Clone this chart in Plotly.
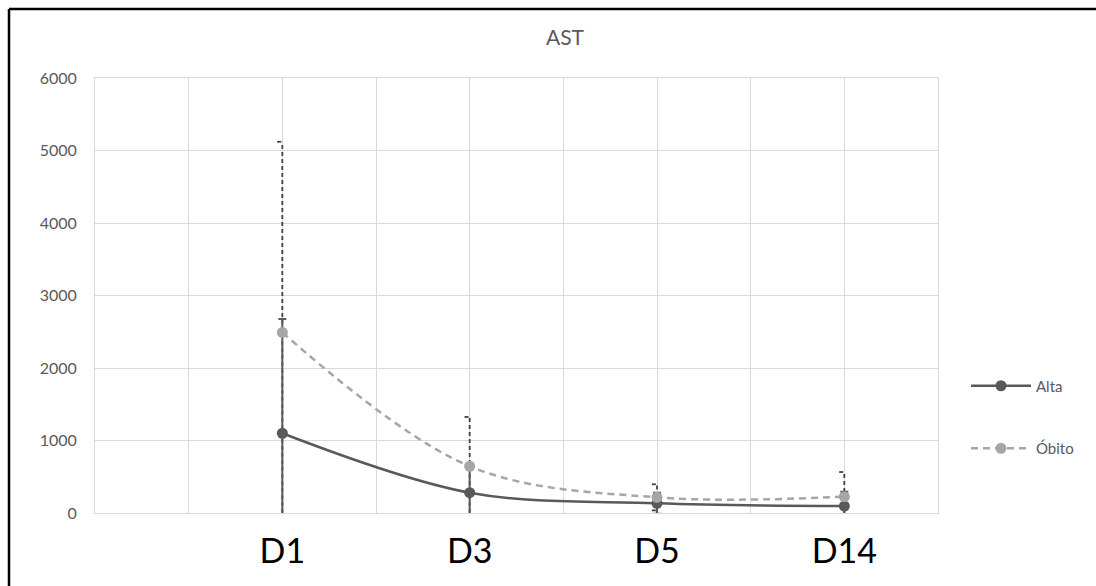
import plotly.graph_objects as go

# AST values per sampling day (mean and standard deviation)
days = ["D1", "D3", "D5", "D14"]
day_pos = [2, 4, 6, 8]
alta_mean = [1100, 280, 134, 96]
alta_sd = [1575, 360, 146, 197]
obito_mean = [2490, 645, 216, 225]
obito_sd = [2630, 680, 180, 340]
y_ticks = [0, 1000, 2000, 3000, 4000, 5000, 6000]

FONT = "Lato"
GRID = "#d9d9d9"
DARK = "#595959"
LIGHT = "#a6a6a6"

# dashed error bars for Óbito, with a short cap on the left of each whisker
cap = 0.055
ex, ey = [], []
for x, m, s in zip(day_pos, obito_mean, obito_sd):
    lo = max(0, m - s)
    ex += [x, x, None]
    ey += [lo, m + s, None]
    ex += [x - cap, x, None]
    ey += [m + s, m + s, None]
    if m - s > 0:
        ex += [x - cap, x, None]
        ey += [m - s, m - s, None]

fig = go.Figure()

fig.add_trace(go.Scatter(
    x=ex, y=ey, mode="lines",
    line=dict(color="#404040", width=1.8, dash="4px,3px"),
    showlegend=False, hoverinfo="skip",
))

fig.add_trace(go.Scatter(
    x=day_pos, y=alta_mean, name="Alta",
    mode="lines+markers",
    line=dict(color=DARK, width=2.5, shape="spline", smoothing=1.0),
    marker=dict(color=DARK, size=11),
    error_y=dict(type="data", array=alta_sd, visible=True,
                 color=DARK, thickness=2, width=4),
    legendgroup="a",
))

fig.add_trace(go.Scatter(
    x=day_pos, y=obito_mean, name="Óbito",
    mode="lines+markers",
    line=dict(color=LIGHT, width=2.5, dash="7px,5px", shape="spline", smoothing=1.0),
    marker=dict(color=LIGHT, size=11),
    legendgroup="b",
))

tick_vals = list(range(0, 10))
tick_text = [""] * 10
for p, d in zip(day_pos, days):
    tick_text[p] = d

fig.update_xaxes(
    range=[0, 9], tickvals=tick_vals, ticktext=tick_text,
    showgrid=True, gridcolor=GRID, gridwidth=1,
    showline=True, linecolor=GRID, linewidth=1, mirror=True,
    zeroline=False, ticks="", ticklabelstandoff=8,
    tickfont=dict(family=FONT, size=34, color="#000000"),
)
fig.update_yaxes(
    range=[0, 6000], tickvals=y_ticks,
    showgrid=True, gridcolor=GRID, gridwidth=1,
    showline=True, linecolor=GRID, linewidth=1, mirror=True,
    zeroline=False, ticks="", ticklabelstandoff=14,
    tickfont=dict(family=FONT, size=16, color=DARK),
)

W, H = 1096, 586
ml, mr, mt, mb = 95, 158, 78, 73
pw, ph = W - ml - mr, H - mt - mb


def px(x):
    return (x - ml) / pw


def py(y):
    return (H - mb - y) / ph


fig.add_annotation(
    text="AST", x=px(565), y=py(37), xref="paper", yref="paper",
    showarrow=False, xanchor="center", yanchor="middle",
    font=dict(family=FONT, size=21, color=DARK),
)

# chart frame (top and left edges)
fig.add_shape(type="line", xref="paper", yref="paper",
              x0=px(9), x1=px(9), y0=py(9), y1=py(600),
              line=dict(color="#000000", width=2.5))
fig.add_shape(type="line", xref="paper", yref="paper",
              x0=px(9), x1=px(1100), y0=py(9), y1=py(9),
              line=dict(color="#000000", width=2.5))

fig.update_layout(
    width=W, height=H,
    margin=dict(l=ml, r=mr, t=mt, b=mb),
    paper_bgcolor="white", plot_bgcolor="white",
    font=dict(family=FONT, color=DARK),
    legend=dict(
        x=px(966), y=py(417), xanchor="left", yanchor="middle",
        font=dict(family=FONT, size=15, color=DARK),
        tracegroupgap=40, itemwidth=60, bgcolor="rgba(0,0,0,0)",
    ),
    showlegend=True,
)

fig.write_html("out.html")
